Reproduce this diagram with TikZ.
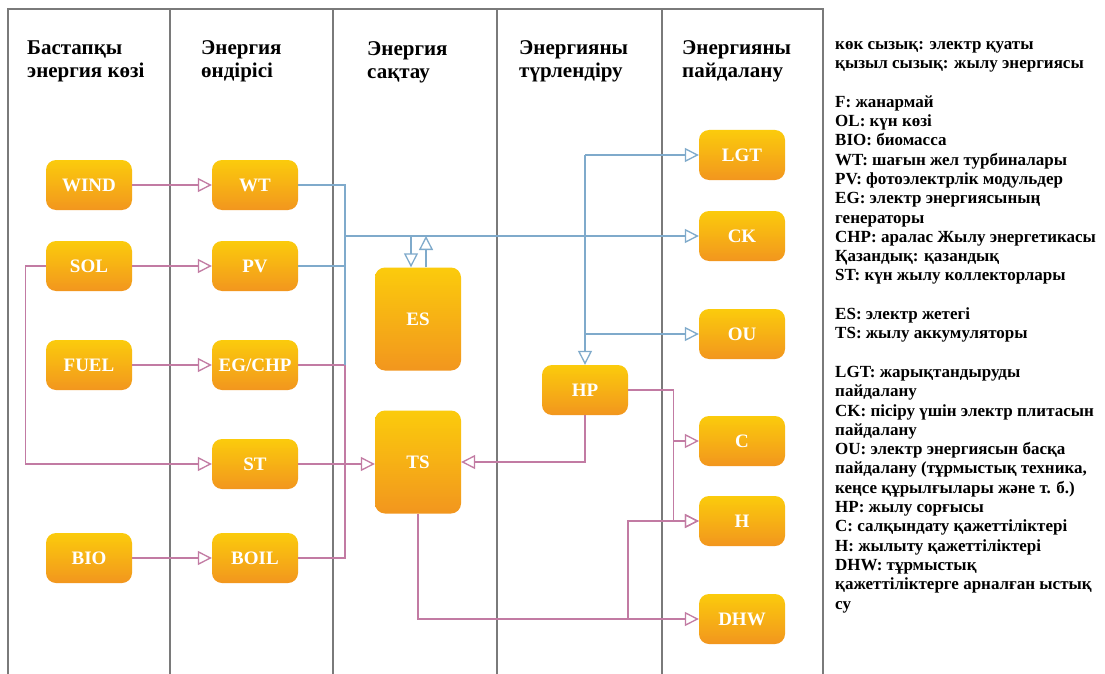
\documentclass[tikz,border=0pt]{standalone}
\usepackage{fontspec}
\setmainfont{Liberation Serif}
\usetikzlibrary{arrows.meta}
\definecolor{elecblue}{HTML}{7FAACB}
\definecolor{heatpink}{HTML}{C27BA3}
\definecolor{boxtop}{HTML}{FBCB0C}
\definecolor{boxbot}{HTML}{F2961E}
\definecolor{lanegray}{HTML}{7A7A7A}

\begin{document}
\begin{tikzpicture}[x=1pt, y=-1pt,
        unit/.style={rounded corners=10pt, top color=boxtop, bottom color=boxbot, draw=none, minimum width=86pt, minimum height=50pt, inner sep=0pt, text=white, font=\fontsize{19}{21}\selectfont\bfseries},
        store/.style={unit, minimum height=103pt},
        lane/.style={draw=lanegray, line width=1.6pt},
        heading/.style={anchor=base west, align=left, inner sep=0pt, font=\fontsize{21}{23}\selectfont\bfseries},
        heat/.style={draw=heatpink, line width=1.3pt},
        elec/.style={draw=elecblue, line width=1.3pt},
        tip/.style={-{Triangle[open, length=14pt, width=14pt]}}
    ]
        \useasboundingbox[fill=white] (0,0) rectangle (1105,674);

        \draw[lane] (8,674) -- (8,9) -- (823,9) -- (823,674);
        \foreach \x in {170,333,497,662} \draw[lane] (\x,9) -- (\x,674);

        \node[heading] (h1) at (27,78) {Бастапқы\\энергия көзі};
        \node[heading] (h2) at (201,78) {Энергия\\өндірісі};
        \node[heading] (h3) at (367,79) {Энергия\\сақтау};
        \node[heading] (h4) at (519,78) {Энергияны\\түрлендіру};
        \node[heading] (h5) at (682,78) {Энергияны\\пайдалану};

        \node[unit] (wind) at (89,185) {WIND};
        \node[unit] (sol) at (89,266) {SOL};
        \node[unit] (fuel) at (89,365) {FUEL};
        \node[unit] (bio) at (89,558) {BIO};
        \node[unit] (wt) at (255,185) {WT};
        \node[unit] (pv) at (255,266) {PV};
        \node[unit] (egchp) at (255,365) {EG/CHP};
        \node[unit] (st) at (255,464) {ST};
        \node[unit] (boil) at (255,558) {BOIL};
        \node[store] (es) at (418,319) {ES};
        \node[store] (ts) at (418,462) {TS};
        \node[unit] (hp) at (585,390) {HP};
        \node[unit] (lgt) at (742,155) {LGT};
        \node[unit] (ck) at (742,236) {CK};
        \node[unit] (ou) at (742,334) {OU};
        \node[unit] (c) at (742,441) {C};
        \node[unit] (h) at (742,521) {H};
        \node[unit] (dhw) at (742,619) {DHW};

        \coordinate (ebus) at (345,236);
        \coordinate (esin) at (411,236);
        \coordinate (esout) at (426,236);
        \coordinate (hfork) at (628,619);

        \draw[heat, tip] (wind) -- (wt);
        \draw[heat, tip] (sol) -- (pv);
        \draw[heat, tip] (fuel) -- (egchp);
        \draw[heat, tip] (bio) -- (boil);
        \draw[heat, tip] (sol.west) -- ++(-20,0) |- (st.west);
        \draw[heat, tip] (st.east) -- (st.east -| ts.west);
        \draw[heat] (egchp.east) -| (ebus |- boil.east) -- (boil.east);
        \draw[heat, tip] (hp.south) |- (ts.east);
        \draw[heat, tip] (ts.south) |- (dhw.west);
        \draw[heat, tip] (hfork) |- (h.west);
        \draw[heat, tip] (hp.east) -- ++(45,0) |- (c.west);
        \draw[heat, tip] (hp.east) -- ++(45,0) |- (h.west);

        \draw[elec] (wt.east) -| (ebus |- egchp.east);
        \draw[elec] (pv.east) -- (pv.east -| ebus);
        \draw[elec, tip] (ebus) -- (ck.west);
        \draw[elec, tip] (esin) -- (esin |- es.north);
        \draw[elec, tip] (esout |- es.north) -- (esout);
        \draw[elec, tip] (hp.north |- lgt.west) -- (hp.north);
        \draw[elec, tip] (hp.north |- lgt.west) -- (lgt.west);
        \draw[elec, tip] (hp.north |- ou.west) -- (ou.west);

        \node[anchor=base west, align=left, inner sep=0pt, font=\fontsize{17}{19.3}\selectfont\bfseries] (legend) at (835,609) {көк сызық: электр қуаты\\
            қызыл сызық: жылу энергиясы\\[19.3pt]
            F: жанармай\\
            OL: күн көзі\\
            BIO: биомасса\\
            WT: шағын жел турбиналары\\
            PV: фотоэлектрлік модульдер\\
            EG: электр энергиясының\\
            генераторы\\
            CHP: аралас Жылу энергетикасы\\
            Қазандық: қазандық\\
            ST: күн жылу коллекторлары\\[19.3pt]
            ES: электр жетегі\\
            TS: жылу аккумуляторы\\[19.3pt]
            LGT: жарықтандыруды\\
            пайдалану\\
            CK: пісіру үшін электр плитасын\\
            пайдалану\\
            OU: электр энергиясын басқа\\
            пайдалану (тұрмыстық техника,\\
            кеңсе құрылғылары және т. б.)\\
            HP: жылу сорғысы\\
            C: салқындату қажеттіліктері\\
            H: жылыту қажеттіліктері\\
            DHW: тұрмыстық\\
            қажеттіліктерге арналған ыстық\\
            су};
    \end{tikzpicture}
\end{document}
